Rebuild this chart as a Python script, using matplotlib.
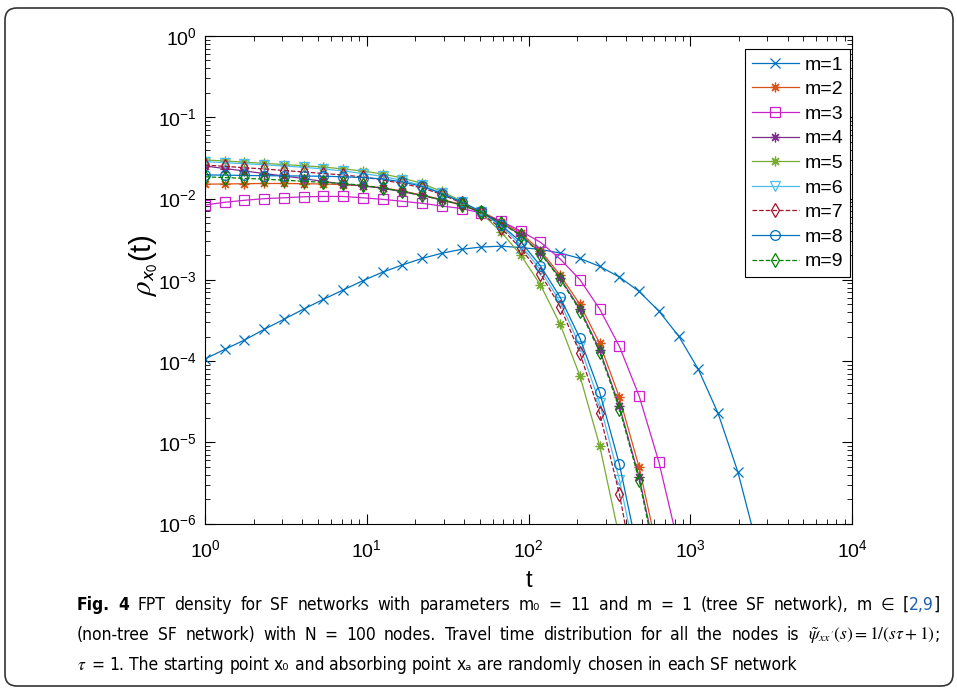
import matplotlib as mpl
mpl.use('Agg')
import matplotlib.pyplot as plt
from matplotlib.patches import FancyBboxPatch
from matplotlib.transforms import IdentityTransform

plt.rcParams['font.family'] = ['Liberation Sans', 'DejaVu Sans']
plt.rcParams['mathtext.fontset'] = 'stix'
plt.rcParams['axes.unicode_minus'] = False

# time grid (same for every curve, markers on each point)
t = [1.0, 1.324, 1.754, 2.323, 3.076, 4.074, 5.395, 7.145, 9.462, 12.53,
     16.60, 21.98, 29.11, 38.55, 51.05, 67.61, 89.54, 118.6, 157.0, 208.0,
     275.4, 364.8, 483.1, 639.8, 847.3, 1122, 1486, 1968, 2606]

rho_m1 = [1.06e-4, 1.39e-4, 1.81e-4, 2.45e-4, 3.26e-4, 4.36e-4, 5.74e-4, 7.48e-4,
          9.73e-4, 1.24e-3, 1.52e-3, 1.83e-3, 2.12e-3, 2.37e-3, 2.53e-3, 2.59e-3,
          2.49e-3, 2.36e-3, 2.13e-3, 1.83e-3, 1.46e-3, 1.08e-3, 7.17e-4, 4.12e-4,
          2.03e-4, 7.9e-5, 2.27e-5, 4.34e-6, 5.0e-7]
rho_m2 = [1.50e-2, 1.51e-2, 1.52e-2, 1.53e-2, 1.53e-2, 1.52e-2, 1.51e-2, 1.48e-2,
          1.43e-2, 1.35e-2, 1.24e-2, 1.10e-2, 9.72e-3, 8.44e-3, 6.92e-3, 5.21e-3,
          3.76e-3, 2.29e-3, 1.14e-3, 4.96e-4, 1.65e-4, 3.57e-5, 4.92e-6, 3.87e-7]
rho_m3 = [8.32e-3, 8.98e-3, 9.51e-3, 9.95e-3, 1.02e-2, 1.05e-2, 1.06e-2, 1.06e-2,
          1.02e-2, 9.77e-3, 9.24e-3, 8.73e-3, 8.09e-3, 7.53e-3, 6.63e-3, 5.28e-3,
          3.98e-3, 2.89e-3, 1.80e-3, 1.00e-3, 4.36e-4, 1.51e-4, 3.71e-5, 5.71e-6,
          5.3e-7]
rho_m4 = [2.51e-2, 2.34e-2, 2.18e-2, 2.03e-2, 1.89e-2, 1.76e-2, 1.62e-2, 1.51e-2,
          1.43e-2, 1.34e-2, 1.21e-2, 1.09e-2, 9.59e-3, 8.32e-3, 6.76e-3, 5.04e-3,
          3.56e-3, 2.15e-3, 1.05e-3, 4.36e-4, 1.37e-4, 2.79e-5, 3.70e-6, 2.68e-7]
rho_m5 = [2.98e-2, 2.90e-2, 2.80e-2, 2.71e-2, 2.62e-2, 2.53e-2, 2.44e-2, 2.31e-2,
          2.18e-2, 2.00e-2, 1.79e-2, 1.53e-2, 1.22e-2, 9.31e-3, 6.63e-3, 3.90e-3,
          2.02e-3, 8.61e-4, 2.83e-4, 6.54e-5, 9.07e-6, 6.69e-7]
rho_m6 = [2.84e-2, 2.76e-2, 2.68e-2, 2.60e-2, 2.51e-2, 2.42e-2, 2.31e-2, 2.18e-2,
          2.03e-2, 1.87e-2, 1.67e-2, 1.45e-2, 1.17e-2, 9.06e-3, 6.73e-3, 4.59e-3,
          2.68e-3, 1.32e-3, 5.32e-4, 1.53e-4, 3.04e-5, 3.43e-6, 2.32e-7]
rho_m7 = [2.58e-2, 2.49e-2, 2.39e-2, 2.31e-2, 2.21e-2, 2.12e-2, 2.03e-2, 1.95e-2,
          1.84e-2, 1.69e-2, 1.53e-2, 1.35e-2, 1.12e-2, 8.81e-3, 6.54e-3, 4.33e-3,
          2.44e-3, 1.18e-3, 4.66e-4, 1.25e-4, 2.27e-5, 2.31e-6, 1.18e-7]
rho_m8 = [1.95e-2, 1.94e-2, 1.92e-2, 1.91e-2, 1.90e-2, 1.89e-2, 1.88e-2, 1.85e-2,
          1.81e-2, 1.74e-2, 1.60e-2, 1.41e-2, 1.15e-2, 9.06e-3, 6.92e-3, 4.72e-3,
          2.94e-3, 1.48e-3, 6.08e-4, 1.90e-4, 4.12e-5, 5.35e-6, 3.66e-7]
rho_m9 = [1.85e-2, 1.81e-2, 1.77e-2, 1.73e-2, 1.68e-2, 1.63e-2, 1.58e-2, 1.53e-2,
          1.45e-2, 1.35e-2, 1.22e-2, 1.09e-2, 9.59e-3, 8.32e-3, 6.73e-3, 4.99e-3,
          3.51e-3, 2.10e-3, 1.02e-3, 4.18e-4, 1.29e-4, 2.60e-5, 3.43e-6, 2.32e-7]

labels = ['m=1', 'm=2', 'm=3', 'm=4', 'm=5', 'm=6', 'm=7', 'm=8', 'm=9']
curves = [rho_m1, rho_m2, rho_m3, rho_m4, rho_m5, rho_m6, rho_m7, rho_m8, rho_m9]
colors = ['#0072BD', '#D95319', '#CC22CC', '#7E2F8E', '#77AC30',
          '#4DBEEE', '#A2142F', '#0072BD', '#008000']
star = (8, 2, 0)  # matlab style asterisk
markers = ['x', star, 's', star, star, 'v', 'd', 'o', 'd']
styles = ['-', '-', '-', '-', '-', '-', '--', '-', '--']

W, H = 957, 689
fig = plt.figure(figsize=(W/100, H/100), dpi=100)
ax = fig.add_axes([205/W, 1-523.5/H, 647/W, 487.5/H])

for vals, lab, col, mk, ls in zip(curves, labels, colors, markers, styles):
    ax.plot(t[:len(vals)], vals, color=col, marker=mk, ls=ls, lw=0.9,
            ms=7, mfc='none', mew=0.9, label=lab)

ax.set_xscale('log')
ax.set_yscale('log')
ax.set_xlim(1, 1e4)
ax.set_ylim(1e-6, 1)
ax.tick_params(which='both', direction='in', top=True, right=True, labelsize=14)
ax.tick_params(which='major', length=7, width=0.8)
ax.tick_params(which='minor', length=3.5, width=0.6)
ax.tick_params(axis='x', which='major', pad=11)
ax.tick_params(axis='y', which='major', pad=6)
for s in ax.spines.values():
    s.set_linewidth(0.8)

ax.set_xlabel('t', fontsize=17)
ax.xaxis.set_label_coords(0.5, -0.095)
ax.set_ylabel(r'$\rho_{\mathsf{x}_{\mathsf{0}}}$(t)', fontsize=21)
ax.yaxis.set_label_coords(-0.07, 0.53)

leg = ax.legend(loc='upper right', bbox_to_anchor=(0.997, 0.973), fontsize=14,
                fancybox=False, edgecolor='black', framealpha=1,
                handlelength=2.4, labelspacing=0.36, borderpad=0.35,
                handletextpad=0.3, borderaxespad=0)
leg.get_frame().set_linewidth(0.8)

# caption, built word by word so the mixed styles line up and the
# first two lines can be justified like the journal page
cap_font = ['DejaVu Sans', 'Liberation Sans']
renderer = fig.canvas.get_renderer()

line1 = [('Fig. 4', {'weight': 'bold'}),
         (' FPT density for SF networks with parameters m\u2080 = 11 and m = 1 (tree SF network), m \u2208 [', {}),
         ('2,9', {'color': '#1F5FAD'}),
         (']', {})]
line2 = [('(non-tree SF network) with N = 100 nodes. Travel time distribution for all the nodes is ', {}),
         (r"$\tilde{\psi}_{xx'}(s) = 1/(s\tau + 1)$", {}),
         (';', {})]
line3 = [(r'$\tau$', {}),
         (' = 1. The starting point x\u2080 and absorbing point x\u2090 are randomly chosen in each SF network', {})]


def text_w(s, size, **kw):
    tt = fig.text(0, 0, s, fontsize=size, family=cap_font, stretch='condensed', **kw)
    w = tt.get_window_extent(renderer=renderer).width
    tt.remove()
    return w


def put_line(pieces, x, y, size, right=None):
    words = []
    for s, kw in pieces:
        if s.startswith('$'):
            words.append((s, kw))
            continue
        for i, part in enumerate(s.split(' ')):
            if i > 0:
                words.append((None, kw))
            if part:
                words.append((part, kw))
    space = text_w('x x', size) - text_w('xx', size)
    texts, widths = [], []
    for s, kw in words:
        if s is None:
            texts.append(None)
            widths.append(space)
            continue
        tt = fig.text(0, 1-y/H, s, va='baseline', ha='left', fontsize=size,
                      family=cap_font, stretch='condensed', **kw)
        texts.append(tt)
        widths.append(tt.get_window_extent(renderer=renderer).width)
    gap = space
    nsp = texts.count(None)
    if right is not None and nsp:
        gap = space + (right - x - sum(widths)) / nsp
    for tt, w in zip(texts, widths):
        if tt is None:
            x += gap
        else:
            tt.set_x(x/W)
            x += w


cap_size = 12.5
put_line(line1, 77, 610, cap_size, right=940)
put_line(line2, 77, 640, cap_size, right=940)
put_line(line3, 77, 670, cap_size)

border = FancyBboxPatch((5, 3), 948, 678, boxstyle='round,pad=0,rounding_size=12',
                        transform=IdentityTransform(), fill=False,
                        edgecolor='#333333', lw=1.2)
fig.patches.append(border)

fig.savefig('out.png', dpi=100)
